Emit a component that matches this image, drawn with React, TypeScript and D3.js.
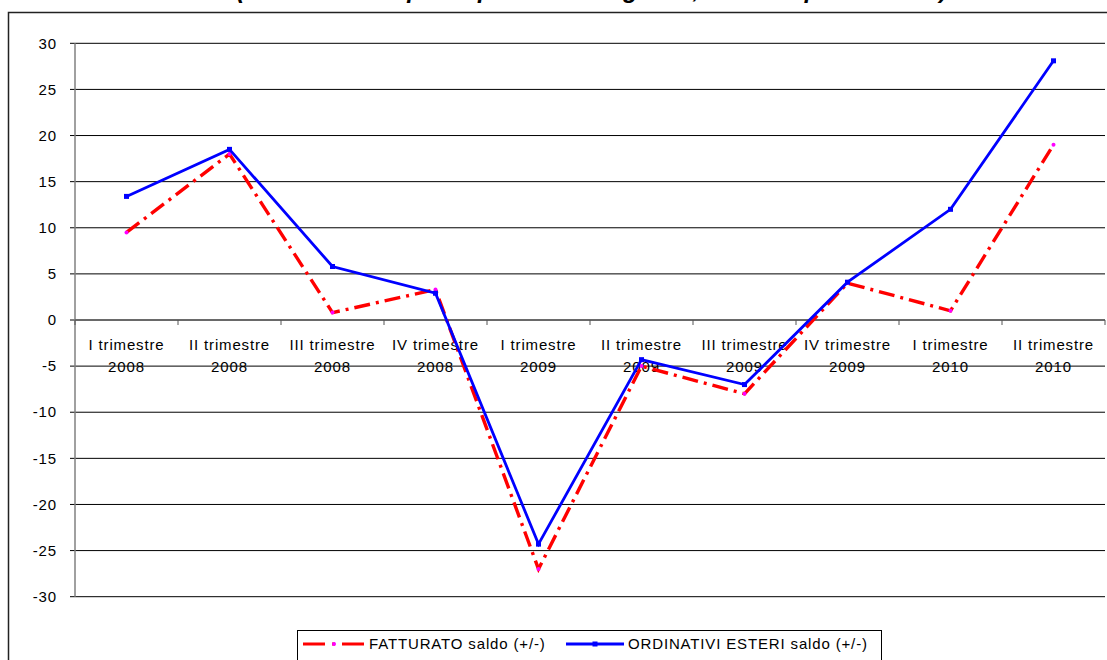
import React from "react";
import * as d3 from "d3";

const categories = [
  ["I trimestre", "2008"],
  ["II trimestre", "2008"],
  ["III trimestre", "2008"],
  ["IV  trimestre", "2008"],
  ["I trimestre", "2009"],
  ["II trimestre", "2009"],
  ["III trimestre", "2009"],
  ["IV  trimestre", "2009"],
  ["I trimestre", "2010"],
  ["II trimestre", "2010"],
];
const fatturato = [9.5, 18, 0.8, 3.3, -27, -5, -8, 4, 1, 19];
const ordinativi = [13.4, 18.5, 5.8, 2.9, -24.3, -4.3, -7, 4.1, 12, 28.1];
const yTicks = [30, 25, 20, 15, 10, 5, 0, -5, -10, -15, -20, -25, -30];
const seriesNames = ["FATTURATO saldo (+/-)", "ORDINATIVI ESTERI saldo (+/-)"];
const title = "(saldo tra le risposte positive e negative, valori in percentuale)";

const W = 1107;
const H = 660;
const left = 75;
const right = 1105;
const top = 43.3;
const bottom = 596.7;
const FONT = "'Liberation Sans', Arial, sans-serif";
const FS = 15;
const LS = 0.85;

export default function App() {
  const x = d3
    .scaleBand<number>()
    .domain(d3.range(categories.length))
    .range([left, right]);
  const y = d3.scaleLinear().domain([-30, 30]).range([bottom, top]);
  const cx = (i: number) => (x(i) as number) + x.bandwidth() / 2;
  const line = d3
    .line<number>()
    .x((_, i) => cx(i))
    .y((d) => y(d));

  return (
    <svg
      width={W}
      height={H}
      style={{ position: "absolute", left: 0, top: 0, background: "#fff" }}
      fontFamily={FONT}
    >
      <rect x={0} y={0} width={W} height={H} fill="#fff" />
      <text
        x={592}
        y={-2}
        textAnchor="middle"
        fontSize={24}
        fontWeight="bold"
        fontStyle="italic"
        fill="#000"
      >
        {title}
      </text>
      <rect x={8.5} y={12.5} width={W + 10} height={H + 10} fill="none" stroke="#222" strokeWidth={1.5} />

      {/* gridlines */}
      {yTicks.map((t) => (
        <g key={t}>
          <line x1={left - 5} x2={right} y1={y(t)} y2={y(t)} stroke="#000" strokeWidth={1} />
          <text x={57} y={y(t)} dy="0.35em" textAnchor="end" fontSize={FS} letterSpacing={LS} fill="#000">
            {t}
          </text>
        </g>
      ))}
      {/* y axis */}
      <line x1={left} x2={left} y1={top} y2={bottom} stroke="#808080" strokeWidth={1.5} />
      {/* x axis at 0 */}
      <line x1={left} x2={right} y1={y(0)} y2={y(0)} stroke="#555" strokeWidth={1.2} />
      {d3.range(categories.length + 1).map((i) => {
        const xx = i < categories.length ? (x(i) as number) : right;
        return <line key={i} x1={xx} x2={xx} y1={y(0)} y2={y(0) + 5} stroke="#555" strokeWidth={1} />;
      })}
      {categories.map((c, i) => (
        <text key={i} x={cx(i)} textAnchor="middle" fontSize={FS} letterSpacing={LS} fill="#000">
          <tspan x={cx(i)} y={349.5}>{c[0]}</tspan>
          <tspan x={cx(i)} y={371.5}>{c[1]}</tspan>
        </text>
      ))}

      {/* series */}
      <path
        d={line(fatturato) || ""}
        fill="none"
        stroke="#ff0000"
        strokeWidth={3.4}
        strokeDasharray="16,6,3,6"
      />
      {fatturato.map((v, i) => (
        <circle key={i} cx={cx(i)} cy={y(v)} r={2} fill="#ff00ff" />
      ))}
      <path d={line(ordinativi) || ""} fill="none" stroke="#0000ff" strokeWidth={2.8} />
      {ordinativi.map((v, i) => (
        <rect key={i} x={cx(i) - 2.5} y={y(v) - 2.5} width={5} height={5} fill="#0000ff" />
      ))}

      {/* legend */}
      <rect x={297.5} y={630.5} width={584} height={40} fill="#fff" stroke="#000" strokeWidth={1} />
      <line x1={303} x2={366} y1={644} y2={644} stroke="#ff0000" strokeWidth={3} strokeDasharray="22,7,3,7" />
      <circle cx={334} cy={644} r={2} fill="#ff00ff" />
      <text x={369} y={644} dy="0.35em" fontSize={FS} letterSpacing={LS} fill="#000">
        {seriesNames[0]}
      </text>
      <line x1={566} x2={624} y1={644} y2={644} stroke="#0000ff" strokeWidth={2.8} />
      <rect x={592.5} y={641.5} width={5} height={5} fill="#0000ff" />
      <text x={628} y={644} dy="0.35em" fontSize={FS} letterSpacing={LS} fill="#000">
        {seriesNames[1]}
      </text>
    </svg>
  );
}
